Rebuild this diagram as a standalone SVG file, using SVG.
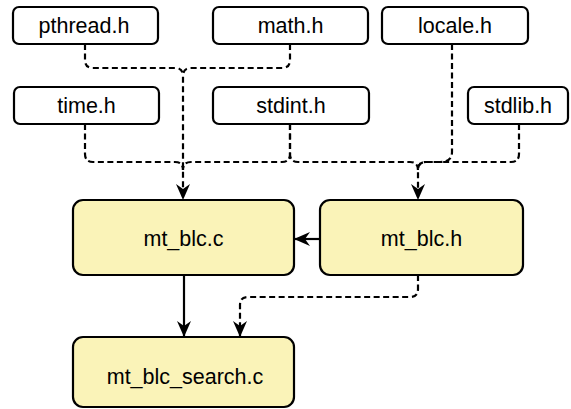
<svg xmlns="http://www.w3.org/2000/svg" width="571" height="409" viewBox="0 0 571 409">
<style>
.n rect{stroke:#000;stroke-width:2.2;fill:#fff}
.y rect{fill:#FAF3B8}
.n text{font-family:"Liberation Sans",Arial,sans-serif;font-size:21.5px;text-anchor:middle;fill:#000}
.c path{fill:none;stroke:#000;stroke-width:2.2}
.c .d{stroke-dasharray:6,3.5}
</style>
<defs>
<marker id="a" viewBox="0 0 16 14" refX="16" refY="7" markerWidth="16" markerHeight="14" markerUnits="userSpaceOnUse" orient="auto">
<path d="M0,0 L16,7 L0,14 L5,7 Z" fill="#000"/>
</marker>
</defs>
<rect width="571" height="409" fill="#fff"/>
<g class="c">
<path class="d" d="M85,44 V60 Q85,68 93,68 H175 Q183,68 183,76"/>
<path class="d" d="M290,44 V60 Q290,68 282,68 H191 Q183,68 183,76 V200" marker-end="url(#a)"/>
<path class="d" d="M85,124 V154 Q85,162 93,162 H175 Q183,162 183,170"/>
<path class="d" d="M290,124 V154 Q290,162 282,162 H191 Q183,162 183,170"/>
<path class="d" d="M290,124 V154 Q290,162 298,162 H410 Q418,162 418,170"/>
<path class="d" d="M452,44 V152 Q452,162 440,162 H426 Q418,162 418,170"/>
<path class="d" d="M519,124 V154 Q519,162 511,162 H426 Q418,162 418,170 V200" marker-end="url(#a)"/>
<path d="M320,239 H294" marker-end="url(#a)"/>
<path d="M184,275 V337" marker-end="url(#a)"/>
<path class="d" d="M418,275 V289 Q418,297 410,297 H248 Q240,297 240,305 V337" marker-end="url(#a)"/>
</g>
<g id="pthread" class="n"><rect x="13" y="7" width="145" height="37" rx="6"/><text x="84" y="33">pthread.h</text></g>
<g id="math" class="n"><rect x="213" y="7" width="155" height="37" rx="6"/><text x="290.5" y="33">math.h</text></g>
<g id="locale" class="n"><rect x="382" y="7" width="146" height="37" rx="6"/><text x="455" y="33">locale.h</text></g>
<g id="time" class="n"><rect x="14" y="87" width="145" height="37" rx="6"/><text x="86.5" y="113">time.h</text></g>
<g id="stdint" class="n"><rect x="213" y="87" width="156" height="37" rx="6"/><text x="291" y="113">stdint.h</text></g>
<g id="stdlib" class="n"><rect x="468" y="87" width="100" height="37" rx="6"/><text x="518" y="113">stdlib.h</text></g>
<g id="mt_blc_c" class="n y"><rect x="73" y="200" width="221" height="75" rx="10"/><text x="183.5" y="246">mt_blc.c</text></g>
<g id="mt_blc_h" class="n y"><rect x="320" y="200" width="203" height="75" rx="10"/><text x="421.5" y="246">mt_blc.h</text></g>
<g id="mt_blc_search_c" class="n y"><rect x="73" y="337" width="221" height="70" rx="10"/><text x="185" y="384">mt_blc_search.c</text></g>
</svg>
